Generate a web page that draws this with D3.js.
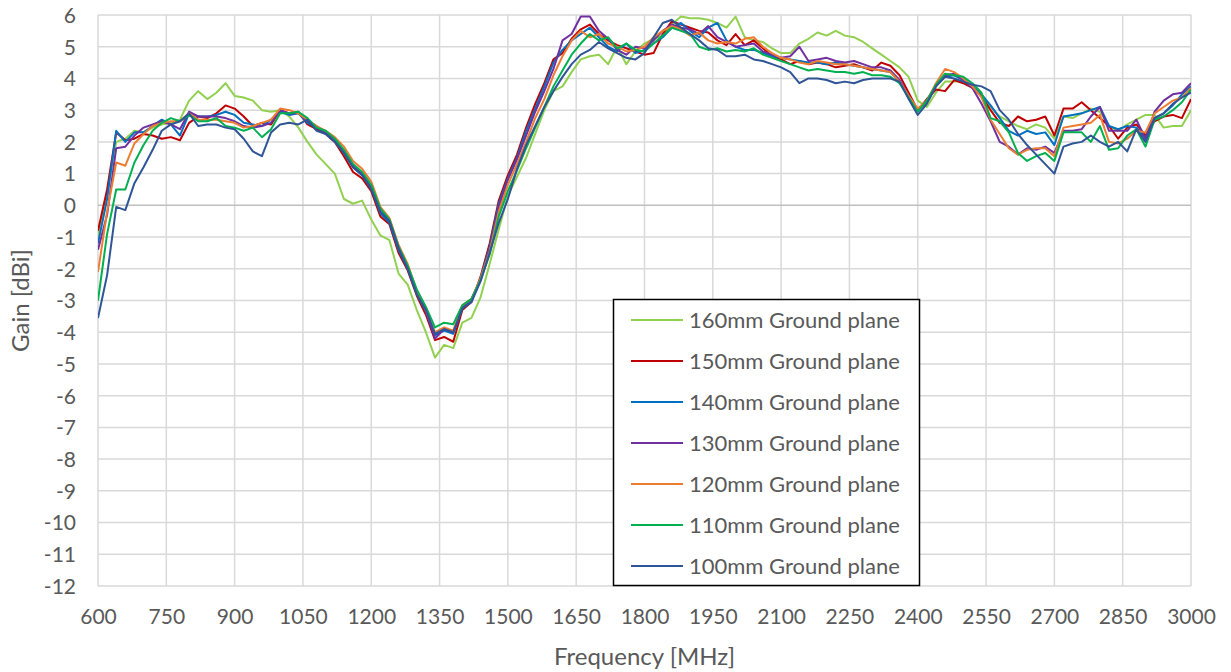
<!DOCTYPE html>
<html>
<head>
<meta charset="utf-8">
<script src="https://cdn.jsdelivr.net/npm/d3@7"></script>
<style>
  html, body { margin: 0; padding: 0; background: #ffffff; }
  svg { display: block; }
  text { font-family: Lato, "Open Sans", sans-serif; fill: #595959; }
</style>
</head>
<body>
<svg id="chart" width="1231" height="672"></svg>
<script>
// ---------- DATA ----------
const freq = [600,620,640,660,680,700,720,740,760,780,800,820,840,860,880,900,920,940,960,980,
  1000,1020,1040,1060,1080,1100,1120,1140,1160,1180,1200,1220,1240,1260,1280,1300,1320,1340,1360,1380,
  1400,1420,1440,1460,1480,1500,1520,1540,1560,1580,1600,1620,1640,1660,1680,1700,1720,1740,1760,1780,
  1800,1820,1840,1860,1880,1900,1920,1940,1960,1980,2000,2020,2040,2060,2080,2100,2120,2140,2160,2180,
  2200,2220,2240,2260,2280,2300,2320,2340,2360,2380,2400,2420,2440,2460,2480,2500,2520,2540,2560,2580,
  2600,2620,2640,2660,2680,2700,2720,2740,2760,2780,2800,2820,2840,2860,2880,2900,2920,2940,2960,2980,3000];

const gain160 = [-1.0,0.4,2.0,2.1,2.35,2.3,2.45,2.55,2.6,2.7,3.3,3.6,3.35,3.55,3.85,3.45,3.4,3.3,3.0,2.95,
  3.0,2.8,2.45,2.0,1.6,1.3,1.0,0.2,0.05,0.15,-0.45,-0.95,-1.1,-2.15,-2.5,-3.3,-4.0,-4.8,-4.4,-4.5,
  -3.7,-3.55,-2.9,-1.85,-0.75,0.3,0.9,1.5,2.25,3.0,3.6,3.75,4.2,4.6,4.7,4.75,4.45,5.0,4.45,4.85,
  5.1,5.25,5.35,5.7,5.95,5.9,5.9,5.85,5.75,5.6,5.95,5.3,5.2,5.15,4.95,4.8,4.8,5.1,5.25,5.45,
  5.35,5.5,5.35,5.3,5.15,4.95,4.75,4.55,4.35,4.05,3.3,3.1,3.55,3.9,3.9,3.9,3.75,3.5,3.1,2.8,
  2.65,2.5,2.4,2.55,2.45,2.1,2.8,2.75,2.9,3.05,2.95,2.5,2.35,2.55,2.7,2.85,2.85,2.45,2.5,2.5,3.0];

const gain150 = [-0.8,0.5,2.3,2.05,2.1,2.25,2.2,2.1,2.15,2.05,2.6,2.8,2.75,2.9,3.15,3.05,2.8,2.5,2.6,2.55,
  3.0,2.9,2.95,2.55,2.4,2.25,2.0,1.55,1.05,0.85,0.45,-0.35,-0.6,-1.5,-2.05,-2.85,-3.45,-4.25,-4.15,-4.3,
  -3.3,-3.05,-2.25,-1.2,0.15,0.95,1.6,2.45,3.2,3.85,4.6,4.8,5.25,5.55,5.7,5.4,5.2,5.05,4.95,4.85,
  4.75,4.8,5.4,5.8,5.7,5.6,5.5,5.45,5.2,5.05,5.4,5.05,5.2,4.95,4.7,4.6,4.45,4.55,4.45,4.5,
  4.45,4.35,4.4,4.45,4.35,4.25,4.5,4.4,4.1,3.55,3.0,3.35,3.65,3.6,3.95,3.85,3.7,3.45,3.0,2.6,
  2.5,2.8,2.65,2.7,2.8,2.2,3.05,3.05,3.25,3.0,2.75,2.5,2.1,2.45,2.55,2.2,2.65,2.8,2.85,2.75,3.35];

const gain140 = [-1.2,0.2,2.35,2.0,2.3,2.3,2.5,2.7,2.55,2.2,2.9,2.8,2.8,2.85,2.95,2.85,2.6,2.55,2.5,2.7,
  2.95,2.85,2.9,2.6,2.45,2.3,2.05,1.65,1.2,0.95,0.55,-0.25,-0.55,-1.4,-2.0,-2.8,-3.35,-4.1,-3.95,-4.05,
  -3.25,-3.0,-2.3,-1.3,0.05,0.85,1.5,2.35,3.05,3.75,4.5,4.9,5.2,5.4,5.6,5.3,5.0,4.85,5.1,4.8,
  4.9,5.1,5.3,5.6,5.75,5.5,5.3,5.6,5.75,5.2,5.0,4.9,4.9,4.8,4.7,4.65,4.6,4.55,4.5,4.5,
  4.45,4.5,4.45,4.4,4.35,4.3,4.25,4.2,3.9,3.4,3.0,3.3,3.8,4.05,4.1,3.95,3.75,3.5,3.15,2.75,
  2.35,2.2,2.35,2.25,2.3,1.9,2.8,2.85,2.9,3.0,3.1,2.5,2.4,2.5,2.45,2.1,2.75,2.9,3.15,3.5,3.75];

const gain130 = [-1.4,-0.3,1.8,1.85,2.2,2.45,2.55,2.65,2.55,2.4,2.95,2.8,2.8,2.8,2.75,2.65,2.5,2.45,2.5,2.6,
  3.0,2.9,2.9,2.65,2.5,2.3,2.05,1.7,1.25,1.0,0.55,-0.2,-0.45,-1.3,-1.95,-2.7,-3.35,-4.2,-3.9,-4.0,
  -3.2,-2.95,-2.35,-1.35,-0.05,0.8,1.45,2.2,2.95,3.6,4.3,5.2,5.4,5.95,5.95,5.5,5.25,4.9,4.75,5.0,
  4.95,5.2,5.5,5.7,5.6,5.55,5.4,5.65,5.3,5.15,5.0,5.05,5.1,4.85,4.75,4.65,4.7,5.0,4.55,4.6,
  4.65,4.55,4.5,4.55,4.45,4.35,4.35,4.25,3.95,3.45,3.0,3.25,3.75,4.1,4.15,3.95,3.7,3.2,2.65,2.0,
  1.85,1.6,1.8,1.75,1.85,1.65,2.35,2.35,2.4,2.8,3.1,2.35,2.35,2.35,2.7,2.1,2.95,3.3,3.5,3.55,3.85];

const gain120 = [-2.1,-0.2,1.35,1.25,1.95,2.25,2.5,2.6,2.65,2.65,2.9,2.7,2.7,2.7,2.65,2.6,2.45,2.5,2.6,2.7,
  3.05,3.0,2.9,2.7,2.5,2.35,2.15,1.85,1.4,1.15,0.75,-0.05,-0.4,-1.25,-1.85,-2.7,-3.3,-4.0,-3.85,-3.95,
  -3.15,-2.95,-2.3,-1.45,-0.2,0.65,1.3,2.0,2.75,3.35,4.1,4.7,5.2,5.5,5.3,5.4,5.1,5.0,4.85,4.9,
  5.0,5.3,5.5,5.65,5.55,5.35,5.45,5.2,5.1,5.15,5.1,5.25,5.3,5.0,4.8,4.65,4.6,4.5,4.45,4.55,
  4.5,4.45,4.45,4.4,4.35,4.3,4.25,4.2,3.9,3.45,3.05,3.3,3.85,4.3,4.2,4.0,3.75,3.4,2.7,2.25,
  1.8,1.6,1.75,1.8,1.8,1.55,2.45,2.5,2.55,2.6,2.85,2.0,1.95,2.1,2.35,2.3,2.9,3.1,3.3,3.4,3.7];

const gain110 = [-3.0,-0.9,0.5,0.5,1.35,1.9,2.35,2.6,2.75,2.65,2.85,2.65,2.65,2.75,2.5,2.45,2.35,2.45,2.15,2.4,
  2.9,2.9,2.95,2.75,2.45,2.35,2.1,1.75,1.3,1.05,0.65,-0.1,-0.45,-1.3,-1.9,-2.65,-3.2,-3.85,-3.7,-3.75,
  -3.15,-2.95,-2.35,-1.55,-0.35,0.45,1.1,1.8,2.45,3.1,3.75,4.25,4.75,5.1,5.4,5.2,5.3,4.95,5.1,4.9,
  4.85,5.1,5.35,5.6,5.5,5.4,5.0,4.9,4.95,4.85,4.9,4.85,4.95,4.75,4.65,4.55,4.45,4.35,4.25,4.3,
  4.25,4.2,4.2,4.15,4.2,4.1,4.1,4.05,3.85,3.4,2.95,3.3,3.8,4.15,4.1,4.05,3.85,3.55,2.75,2.65,
  2.3,1.65,1.4,1.55,1.65,1.4,2.3,2.3,2.3,2.0,2.5,1.75,1.8,2.2,2.4,1.85,2.7,2.8,3.0,3.25,3.65];

const gain100 = [-3.55,-2.2,-0.05,-0.15,0.7,1.2,1.75,2.35,2.55,2.65,2.9,2.5,2.55,2.55,2.45,2.4,2.1,1.7,1.55,2.3,
  2.55,2.6,2.55,2.7,2.35,2.25,2.0,1.65,1.2,0.95,0.5,-0.2,-0.5,-1.35,-2.0,-2.8,-3.3,-4.05,-3.9,-4.0,
  -3.25,-3.05,-2.4,-1.5,-0.55,0.2,1.15,1.9,2.5,3.1,3.6,4.05,4.45,4.75,4.9,5.15,4.95,4.8,4.65,4.6,
  4.8,5.3,5.75,5.85,5.6,5.4,5.2,4.95,4.9,4.7,4.7,4.75,4.6,4.55,4.45,4.35,4.2,3.85,4.0,4.0,
  3.95,3.85,3.9,3.85,3.95,4.0,4.0,4.0,3.9,3.35,2.85,3.2,3.75,4.05,4.0,3.9,3.8,3.75,3.6,3.0,
  2.7,2.25,1.9,1.6,1.3,1.0,1.85,1.95,2.0,2.2,2.0,1.85,2.0,1.7,2.4,2.0,2.75,2.9,3.2,3.4,3.55];

const seriesNames = ["160mm Ground plane","150mm Ground plane","140mm Ground plane","130mm Ground plane",
  "120mm Ground plane","110mm Ground plane","100mm Ground plane"];
const seriesColors = ["#92D050","#C00000","#0070C0","#7030A0","#ED7D31","#00B050","#2F5597"];
const seriesValues = [gain160, gain150, gain140, gain130, gain120, gain110, gain100];

const xTicks = [600,750,900,1050,1200,1350,1500,1650,1800,1950,2100,2250,2400,2550,2700,2850,3000];
const yTicks = [6,5,4,3,2,1,0,-1,-2,-3,-4,-5,-6,-7,-8,-9,-10,-11,-12];

// ---------- LAYOUT ----------
const plot = { left: 98, right: 1191, top: 15, bottom: 586 };

const svg = d3.select("#chart");
const x = d3.scaleLinear().domain([600, 3000]).range([plot.left, plot.right]);
const y = d3.scaleLinear().domain([-12, 6]).range([plot.bottom, plot.top]);

// grid
const grid = svg.append("g");
grid.selectAll("line.v").data(xTicks).enter().append("line")
  .attr("x1", d => x(d)).attr("x2", d => x(d))
  .attr("y1", plot.top).attr("y2", plot.bottom)
  .attr("stroke", "#d9d9d9").attr("stroke-width", 1.5);
grid.selectAll("line.h").data(yTicks).enter().append("line")
  .attr("x1", plot.left).attr("x2", plot.right)
  .attr("y1", d => y(d)).attr("y2", d => y(d))
  .attr("stroke", d => d === 0 ? "#bfbfbf" : "#d9d9d9").attr("stroke-width", 1.5);

// axes (labels only)
const fmt = d => String(d);
const xAxis = d3.axisBottom(x).tickValues(xTicks).tickSize(0).tickPadding(0).tickFormat(fmt);
const gx = svg.append("g").attr("transform", `translate(0,${plot.bottom})`).call(xAxis);
gx.select(".domain").remove();
gx.selectAll("text").attr("dy", null).attr("y", 38)
  .style("font-family", "Lato, sans-serif").style("font-size", "21px").attr("fill", "#595959");

const yAxis = d3.axisLeft(y).tickValues(yTicks).tickSize(0).tickPadding(0).tickFormat(fmt);
const gy = svg.append("g").attr("transform", `translate(${plot.left},0)`).call(yAxis);
gy.select(".domain").remove();
gy.selectAll("text").attr("x", -22).attr("dy", "0.35em")
  .style("font-family", "Lato, sans-serif").style("font-size", "21px").attr("fill", "#595959");

// titles
svg.append("text").attr("x", (plot.left + plot.right) / 2).attr("y", 665)
  .attr("text-anchor", "middle").style("font-size", "24px").text("Frequency [MHz]");
svg.append("text").attr("transform", `translate(29,${(plot.top + plot.bottom) / 2}) rotate(-90)`)
  .attr("text-anchor", "middle").style("font-size", "24px").text("Gain [dBi]");

// lines
svg.append("clipPath").attr("id", "clip").append("rect")
  .attr("x", plot.left).attr("y", plot.top - 1).attr("width", plot.right - plot.left).attr("height", plot.bottom - plot.top + 1);
const line = d3.line().x((d, i) => x(freq[i])).y(d => y(d));
const lines = svg.append("g").attr("clip-path", "url(#clip)");
seriesValues.forEach((vals, k) => {
  lines.append("path").datum(vals)
    .attr("d", line).attr("fill", "none")
    .attr("stroke", seriesColors[k]).attr("stroke-width", 2)
    .attr("stroke-linejoin", "round");
});

// legend
const lg = svg.append("g");
lg.append("rect").attr("x", 613.5).attr("y", 299.5).attr("width", 306).attr("height", 286)
  .attr("fill", "#ffffff").attr("stroke", "#000000").attr("stroke-width", 1.5);
seriesNames.forEach((name, k) => {
  const cy = 320 + k * 41;
  lg.append("line").attr("x1", 631).attr("x2", 683).attr("y1", cy).attr("y2", cy)
    .attr("stroke", seriesColors[k]).attr("stroke-width", 2);
  lg.append("text").attr("x", 689).attr("y", cy).attr("dy", "0.35em")
    .style("font-size", "22px").text(name);
});
</script>
</body>
</html>
